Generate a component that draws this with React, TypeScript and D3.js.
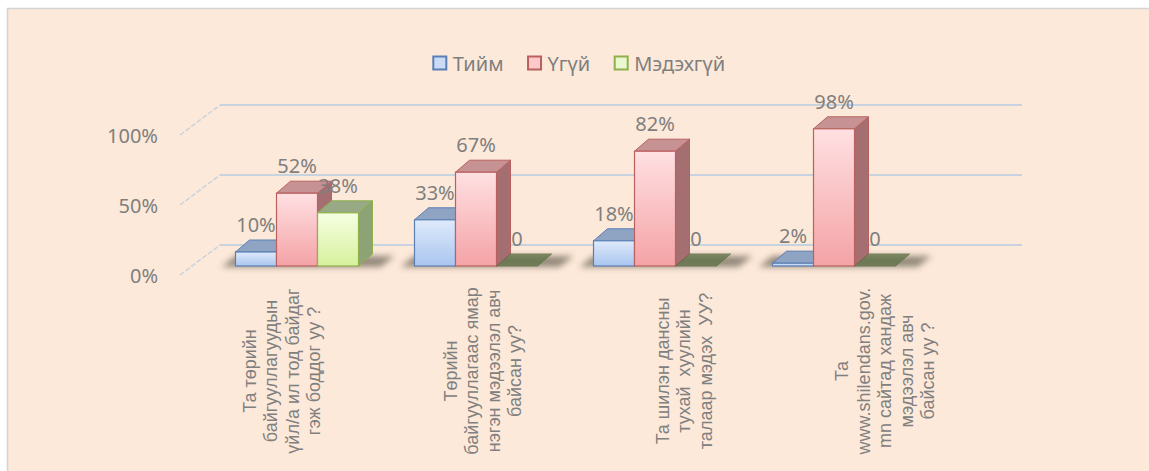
import React, { useEffect, useRef } from "react";
import * as d3 from "d3";

const categories = ["q1", "q2", "q3", "q4"];
const categoryLines = [
  ["Та төрийн", "байгууллагуудын", "үйл/а ил тод байдаг", "гэж боддог уу ?"],
  ["Төрийн", "байгууллагаас ямар", "нэгэн мэдээлэл авч", "байсан уу?"],
  ["Та шилэн дансны", "тухай  хуулийн", "талаар мэдэх  УУ?"],
  ["Та", "www.shilendans.gov.", "mn сайтад хандаж", "мэдээлэл авч", "байсан уу ?"],
];
const seriesNames = ["Тийм", "Үгүй", "Мэдэхгүй"];
const yesValues = [0.1, 0.33, 0.18, 0.02];
const noValues = [0.52, 0.67, 0.82, 0.98];
const unknownValues = [0.38, 0, 0, 0];
const yTicks = [0, 0.5, 1];
const tickLabels = ["0%", "50%", "100%"];

const W = 1149;
const H = 471;

const styles = [
  { front: ["#dfeafb", "#a9c5ef"], top: "#8fa3c3", side: "#7d92b5", stroke: "#5b7fb5", legend: "#c9dbf5" },
  { front: ["#ffe0e2", "#f4a3a6"], top: "#c79294", side: "#a56e70", stroke: "#b9615e", legend: "#fcc8c9" },
  { front: ["#f6ffe2", "#d6f09c"], top: "#97a985", side: "#8ea375", stroke: "#8fb04c", legend: "#eaf8cf" },
];

export default function App() {
  const ref = useRef<SVGSVGElement>(null);

  useEffect(() => {
    const svg = d3.select(ref.current);
    svg.selectAll("*").remove();
    const series = [yesValues, noValues, unknownValues];

    const defs = svg.append("defs");
    styles.forEach((s, i) => {
      const g = defs.append("linearGradient").attr("id", `grad${i}`).attr("x1", 0).attr("y1", 0).attr("x2", 0).attr("y2", 1);
      g.append("stop").attr("offset", "0%").attr("stop-color", s.front[0]);
      g.append("stop").attr("offset", "100%").attr("stop-color", s.front[1]);
    });
    defs.append("filter").attr("id", "blur").attr("x", "-20%").attr("y", "-100%").attr("width", "140%").attr("height", "300%")
      .append("feGaussianBlur").attr("stdDeviation", 3);

    // background
    svg.append("rect").attr("x", 7.5).attr("y", 8.5).attr("width", W).attr("height", H)
      .attr("fill", "#fde9d9").attr("stroke", "#d4d4d4").attr("stroke-width", 1.5);

    const y = d3.scaleLinear().domain([0, 1]).range([266, 126]);
    const x0 = d3.scaleBand<string>().domain(categories).range([207.5, 923.5]).paddingInner(0.3128).paddingOuter(0.1564);
    const x1 = d3.scaleBand<string>().domain(seriesNames).range([0, x0.bandwidth()]);
    const labelX = d3.scaleLinear().domain([0, categories.length - 1]).range([282, 885]);

    const depthX = 14, depthY = -12;
    const wallFront = 180, wallBack = 220, wallRight = 1022;
    const backOff = -21, frontOff = 9;
    const gridColor = "#c7d3de";

    const grid = svg.append("g");
    yTicks.forEach((t, i) => {
      grid.append("line").attr("x1", wallFront).attr("y1", y(t) + frontOff).attr("x2", wallBack).attr("y2", y(t) + backOff)
        .attr("stroke", gridColor).attr("stroke-width", 1.5).attr("stroke-dasharray", "5,2");
      grid.append("line").attr("x1", wallBack).attr("y1", y(t) + backOff).attr("x2", wallRight).attr("y2", y(t) + backOff)
        .attr("stroke", gridColor).attr("stroke-width", 2);
      svg.append("text").attr("x", 158).attr("y", y(t) + frontOff).attr("text-anchor", "end").attr("dominant-baseline", "central")
        .attr("font-family", "Noto Sans").attr("font-size", 20).attr("fill", "#7f7f7f").text(tickLabels[i]);
    });

    // shadows
    categories.forEach((c) => {
      const left = x0(c)!;
      const right = left + x0.bandwidth();
      const base = y(0);
      svg.append("polygon")
        .attr("points", [[left - 14, base + 1], [right + 22, base + 1], [right + 22 + depthX, base + depthY + 2], [left - 14 + depthX, base + depthY + 2]].map((p) => p.join(",")).join(" "))
        .attr("fill", "#3e3a2e").attr("opacity", 0.55).attr("filter", "url(#blur)");
    });

    // bars
    categories.forEach((c, ci) => {
      seriesNames.forEach((s, si) => {
        const v = series[si][ci];
        const st = styles[si];
        const xa = x0(c)! + x1(s)!;
        const xb = xa + x1.bandwidth();
        const yb = y(0);
        const yt = y(v);
        const g = svg.append("g").attr("opacity", v === 0 ? 0.75 : 1);
        const poly = (pts: number[][]) => pts.map((p) => p.join(",")).join(" ");
        g.append("polygon").attr("points", poly([[xb, yt], [xb + depthX, yt + depthY], [xb + depthX, yb + depthY], [xb, yb]]))
          .attr("fill", st.side).attr("stroke", st.stroke).attr("stroke-width", 1).attr("stroke-linejoin", "round");
        g.append("polygon").attr("points", poly([[xa, yt], [xb, yt], [xb + depthX, yt + depthY], [xa + depthX, yt + depthY]]))
          .attr("fill", v === 0 ? "#5e7146" : st.top).attr("stroke", v === 0 ? "#56693f" : st.stroke).attr("stroke-width", 1).attr("stroke-linejoin", "round");
        if (v > 0) {
          g.append("rect").attr("x", xa).attr("y", yt).attr("width", xb - xa).attr("height", yb - yt)
            .attr("fill", `url(#grad${si})`).attr("stroke", st.stroke).attr("stroke-width", 1.2);
        }
      });
    });

    // data labels
    categories.forEach((c, ci) => {
      seriesNames.forEach((s, si) => {
        const v = series[si][ci];
        const cx = x0(c)! + x1(s)! + x1.bandwidth() / 2;
        svg.append("text").attr("x", cx).attr("y", y(v) - 20).attr("text-anchor", "middle")
          .attr("font-family", "Noto Sans").attr("font-size", 20).attr("fill", "#7f7f7f")
          .text(v === 0 ? "0" : d3.format(".0%")(v));
      });
    });

    // category labels
    categoryLines.forEach((lines, ci) => {
      const cx = labelX(ci);
      const cy = 371;
      lines.forEach((ln, li) => {
        const lx = cx + (li - (lines.length - 1) / 2) * 21.5;
        svg.append("text").attr("x", lx).attr("y", cy).attr("text-anchor", "middle").attr("dominant-baseline", "central")
          .attr("transform", `rotate(-90, ${lx}, ${cy})`).attr("font-family", "Liberation Sans").attr("font-size", 18)
          .attr("fill", "#808080").attr("xml:space", "preserve").style("white-space", "pre").text(ln);
      });
    });

    // legend
    const leg = svg.append("g");
    const items = seriesNames.map((name, i) => {
      const g = leg.append("g");
      g.append("rect").attr("x", 0.5).attr("y", -6.5).attr("width", 13).attr("height", 13)
        .attr("fill", styles[i].legend).attr("stroke", styles[i].stroke).attr("stroke-width", 2);
      const t = g.append("text").attr("x", 20).attr("y", 0).attr("dominant-baseline", "central")
        .attr("font-family", "Noto Sans").attr("font-size", 20).attr("fill", "#7f7f7f").text(name);
      const w = 20 + ((t.node() as SVGTextElement).getComputedTextLength() || name.length * 11);
      return { g, w };
    });
    const gap = 24;
    const total = d3.sum(items, (d) => d.w) + gap * (items.length - 1);
    let cursor = 579 - total / 2;
    items.forEach((it) => {
      it.g.attr("transform", `translate(${cursor},63)`);
      cursor += it.w + gap;
    });
  }, []);

  return (
    <svg ref={ref} width={W} height={H} style={{ position: "absolute", left: 0, top: 0, background: "#ffffff" }} />
  );
}
